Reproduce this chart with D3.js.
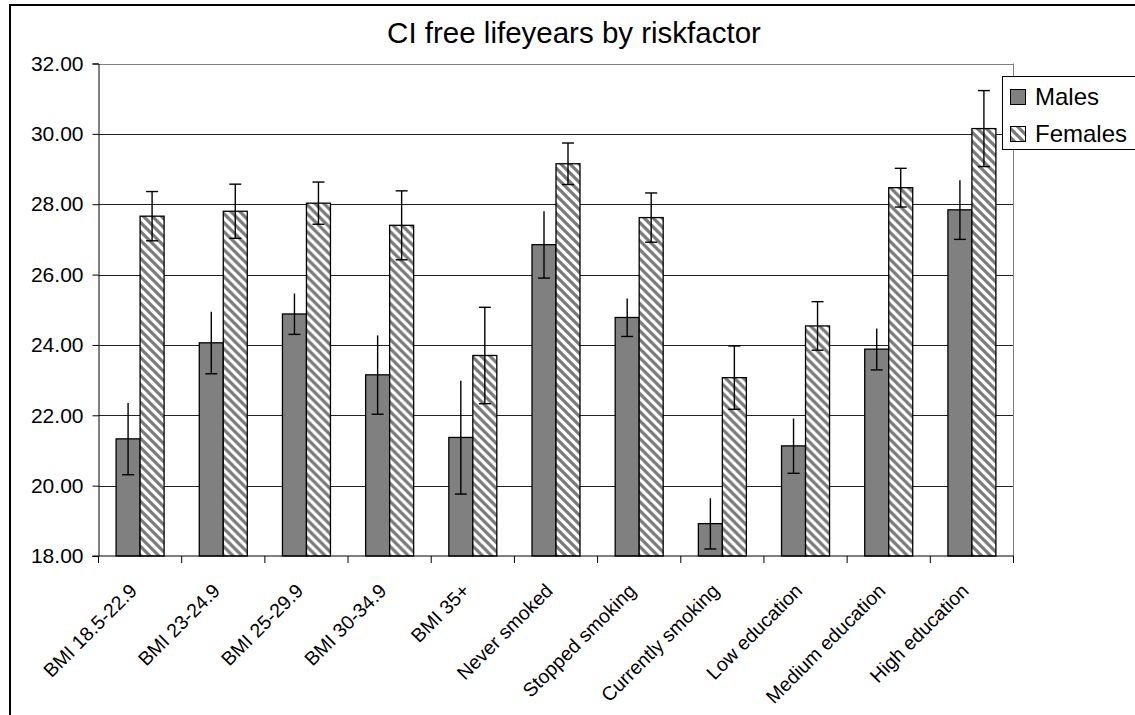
<!DOCTYPE html>
<html><head><meta charset="utf-8">
<script src="https://cdnjs.cloudflare.com/ajax/libs/d3/7.8.5/d3.min.js"></script>
<style>body{margin:0;background:#fff}svg{display:block;font-family:"Liberation Sans",Arial,sans-serif}</style>
</head><body><svg id="c" width="1135" height="715"></svg>
<script>
const categories = ["BMI 18.5-22.9","BMI 23-24.9","BMI 25-29.9","BMI 30-34.9","BMI 35+","Never smoked","Stopped smoking","Currently smoking","Low education","Medium education","High education"];
const series = ["Males","Females"];
const males = [21.33,24.06,24.88,23.15,21.37,26.85,24.78,18.92,21.13,23.88,27.84];
const malesErr = [1.02,0.88,0.58,1.12,1.61,0.95,0.54,0.72,0.78,0.59,0.84];
const females = [27.66,27.80,28.03,27.40,23.70,29.15,27.62,23.07,24.54,28.47,30.15];
const femalesErr = [0.70,0.77,0.60,0.98,1.37,0.59,0.70,0.90,0.69,0.55,1.08];
const yTicks = [18,20,22,24,26,28,30,32];

const svg = d3.select("#c");
const L=98.5, R=1013.5, T=63.5, B=556;
const defs = svg.append("defs");
const pat = defs.append("pattern").attr("id","hatch").attr("patternUnits","userSpaceOnUse").attr("width",9).attr("height",9);
pat.append("rect").attr("width",9).attr("height",9).attr("fill","#fff");
pat.append("path").attr("d","M-2,-2L11,11M-2,7L2,11M7,-2L11,2").attr("stroke","#7a7a7a").attr("stroke-width",3.2);

// outer frame
svg.append("rect").attr("x",10).attr("y",5).attr("width",1140).attr("height",730).attr("fill","none").attr("stroke","#000").attr("stroke-width",2);

const x = d3.scaleBand().domain(categories).range([L,R]).paddingInner(0.423).paddingOuter(0.2115);
const xs = d3.scaleBand().domain(series).range([0,x.bandwidth()]);
const y = d3.scaleLinear().domain([18,32]).range([B,T]);
const fills = {"Males":"#808080","Females":"url(#hatch)"};

// gridlines
svg.append("g").selectAll("line").data(yTicks.filter(d=>d>18)).join("line")
  .attr("x1",L).attr("x2",R).attr("y1",d=>Math.round(y(d))+0.5).attr("y2",d=>Math.round(y(d))+0.5)
  .attr("stroke",d=>d===32?"#808080":"#222").attr("stroke-width",1);
// plot border right
svg.append("line").attr("x1",R).attr("x2",R).attr("y1",T).attr("y2",B).attr("stroke","#808080");

// y axis
const yAxis = d3.axisLeft(y).tickValues(yTicks).tickFormat(d3.format(".2f")).tickSize(6).tickPadding(10);
const gy = svg.append("g").attr("transform",`translate(${L},0)`).call(yAxis);
gy.select(".domain").attr("stroke","#000");
gy.selectAll("text").attr("font-size",21).attr("fill","#000").attr("font-family","Liberation Sans, Arial, sans-serif").attr("dx",1);

// bars
const rows = categories.map((c,i)=>({c, vals:[{s:"Males",v:males[i],e:malesErr[i]},{s:"Females",v:females[i],e:femalesErr[i]}]}));
const grp = svg.append("g").selectAll("g").data(rows).join("g").attr("transform",d=>`translate(${x(d.c)},0)`);
grp.selectAll("rect").data(d=>d.vals).join("rect")
  .attr("x",d=>xs(d.s)).attr("width",xs.bandwidth()).attr("y",d=>y(d.v)).attr("height",d=>B-y(d.v))
  .attr("fill",d=>fills[d.s]).attr("stroke","#000").attr("stroke-width",1.3);
// error bars
const eb = grp.selectAll("g.eb").data(d=>d.vals).join("g").attr("class","eb")
  .attr("transform",d=>`translate(${xs(d.s)+xs.bandwidth()/2},0)`);
eb.append("line").attr("x1",0).attr("x2",0).attr("y1",d=>y(d.v+d.e)).attr("y2",d=>y(d.v-d.e)).attr("stroke","#000").attr("stroke-width",1.4);
eb.append("line").attr("x1",-6).attr("x2",6).attr("y1",d=>y(d.v-d.e)).attr("y2",d=>y(d.v-d.e)).attr("stroke","#000").attr("stroke-width",1.4);
eb.filter(d=>d.s==="Females").append("line").attr("x1",-6).attr("x2",6).attr("y1",d=>y(d.v+d.e)).attr("y2",d=>y(d.v+d.e)).attr("stroke","#000").attr("stroke-width",1.4);

// x axis
svg.append("line").attr("x1",L-6).attr("x2",R).attr("y1",B).attr("y2",B).attr("stroke","#000");
const step = x.step();
svg.append("g").selectAll("line").data(d3.range(categories.length+1)).join("line")
  .attr("x1",i=>L+i*step).attr("x2",i=>L+i*step).attr("y1",B).attr("y2",B+7).attr("stroke","#000");
svg.append("g").selectAll("text").data(categories).join("text")
  .attr("transform",d=>`translate(${x(d)+x.bandwidth()/2-2},${B+36}) rotate(-45)`)
  .attr("text-anchor","end").attr("font-size",19.5).attr("fill","#000").text(d=>d);

// title
svg.append("text").attr("x",574).attr("y",43).attr("text-anchor","middle").attr("font-size",29.5).attr("fill","#000").text("CI free lifeyears by riskfactor");

// legend
const lg = svg.append("g");
lg.append("rect").attr("x",1002.5).attr("y",76.5).attr("width",150).attr("height",73).attr("fill","#fff").attr("stroke","#000");
series.forEach((s,i)=>{
  const yy = 89 + i*37;
  lg.append("rect").attr("x",1010.5).attr("y",yy+0.5).attr("width",15).attr("height",15).attr("fill",fills[s]).attr("stroke","#000");
  lg.append("text").attr("x",1035).attr("y",yy+16).attr("font-size",24).attr("fill","#000").text(s);
});
</script></body></html>
